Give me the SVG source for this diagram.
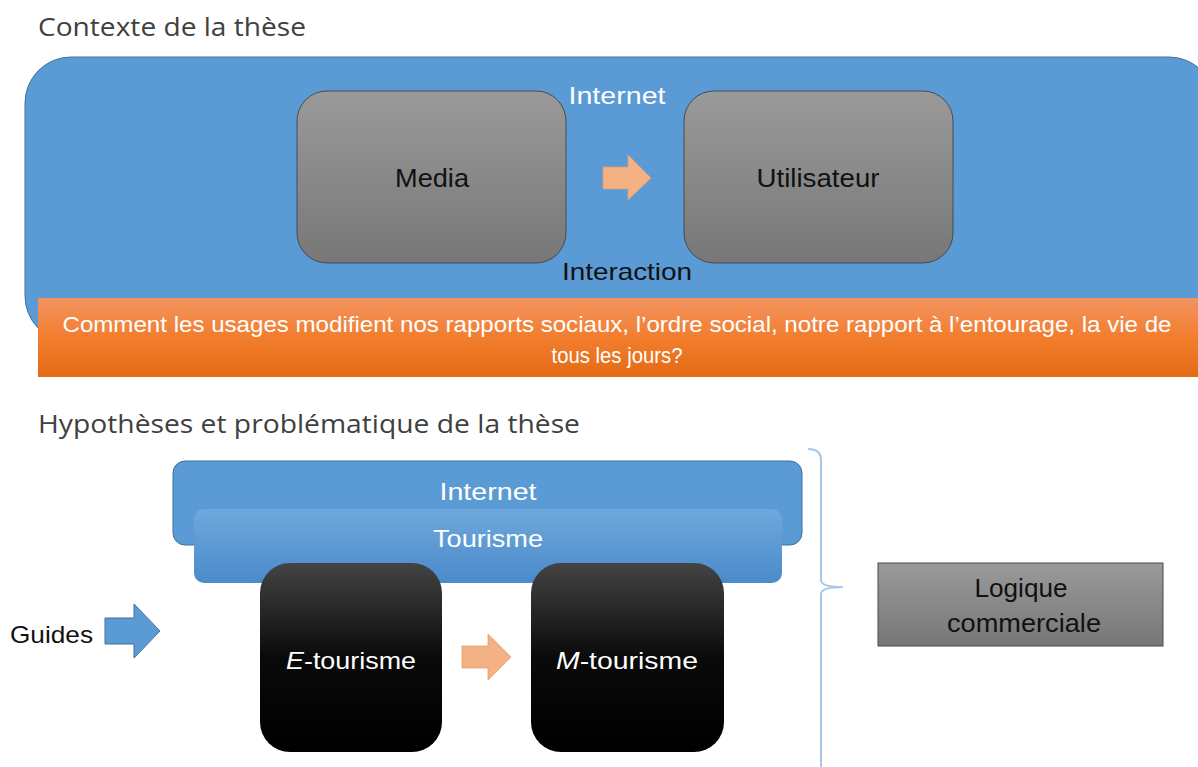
<svg xmlns="http://www.w3.org/2000/svg" width="1198" height="767" viewBox="0 0 1198 767">
<defs>
<linearGradient id="gGray" x1="0" y1="0" x2="0" y2="1"><stop offset="0" stop-color="#9a9a9a"/><stop offset="1" stop-color="#777777"/></linearGradient>
<linearGradient id="gBlack" x1="0" y1="0" x2="0" y2="1"><stop offset="0" stop-color="#444444"/><stop offset="0.5" stop-color="#0a0a0a"/><stop offset="1" stop-color="#000000"/></linearGradient>
<linearGradient id="gOrange" x1="0" y1="0" x2="0" y2="1"><stop offset="0" stop-color="#F29360"/><stop offset="0.5" stop-color="#F27E2E"/><stop offset="1" stop-color="#E46A14"/></linearGradient>
<linearGradient id="gTour" x1="0" y1="0" x2="0" y2="1"><stop offset="0" stop-color="#6FA8DC"/><stop offset="1" stop-color="#4A8BCB"/></linearGradient>
</defs>
<style>
.t{font-family:"Liberation Sans","Open Sans",sans-serif;}
.title{font-family:"Open Sans","Liberation Sans",sans-serif;font-size:26px;fill:#404040;}
.w{font-family:"Liberation Sans","Open Sans",sans-serif;fill:#ffffff;text-anchor:middle;}
.k{font-family:"Liberation Sans","Open Sans",sans-serif;fill:#111111;text-anchor:middle;}
.gray{fill:url(#gGray);stroke:#4a4a4a;stroke-width:1;}
.black{fill:url(#gBlack);}
</style>
<rect width="1198" height="767" fill="#ffffff"/>
<text class="title" x="38" y="36" textLength="268" lengthAdjust="spacingAndGlyphs">Contexte de la thèse</text>
<g id="internet-top">
<rect x="25" y="57" width="1190" height="285" rx="46" fill="#5B9BD5" stroke="#41719C" stroke-width="1"/>
<text class="w" x="617" y="104" font-size="24" textLength="97" lengthAdjust="spacingAndGlyphs">Internet</text>
<text class="k" x="627" y="280" font-size="24" textLength="130" lengthAdjust="spacingAndGlyphs">Interaction</text>
</g>
<g id="media"><rect class="gray" x="297" y="91" width="269" height="172" rx="30"/><text class="k" x="432" y="187" font-size="25" textLength="74" lengthAdjust="spacingAndGlyphs">Media</text></g>
<g id="utilisateur"><rect class="gray" x="684" y="91" width="269" height="172" rx="30"/><text class="k" x="818" y="187" font-size="25" textLength="123" lengthAdjust="spacingAndGlyphs">Utilisateur</text></g>
<g id="question">
<rect x="38" y="298" width="1165" height="79" fill="url(#gOrange)"/>
<text class="w" x="617" y="332" font-size="22" textLength="1109" lengthAdjust="spacingAndGlyphs">Comment les usages modifient nos rapports sociaux, l’ordre social, notre rapport à l’entourage, la vie de</text>
<text class="w" x="617" y="363" font-size="22" textLength="131" lengthAdjust="spacingAndGlyphs">tous les jours?</text>
</g>
<text class="title" x="38" y="433" textLength="542" lengthAdjust="spacingAndGlyphs">Hypothèses et problématique de la thèse</text>
<g id="internet-bottom"><rect x="173" y="461" width="629" height="84" rx="12" fill="#5B9BD5" stroke="#41719C" stroke-width="1"/><text class="w" x="488" y="500" font-size="24" textLength="97" lengthAdjust="spacingAndGlyphs">Internet</text></g>
<g id="tourisme"><rect x="194" y="509" width="588" height="74" rx="10" fill="url(#gTour)"/><text class="w" x="488" y="547" font-size="24" textLength="110" lengthAdjust="spacingAndGlyphs">Tourisme</text></g>
<g id="e-tourisme"><rect class="black" x="260" y="563" width="182" height="189" rx="30"/><text class="w" x="351" y="669" font-size="24" textLength="130" lengthAdjust="spacingAndGlyphs"><tspan font-style="italic">E</tspan>-tourisme</text></g>
<g id="m-tourisme"><rect class="black" x="531" y="563" width="193" height="189" rx="30"/><text class="w" x="627" y="669" font-size="24" textLength="142" lengthAdjust="spacingAndGlyphs"><tspan font-style="italic">M</tspan>-tourisme</text></g>
<g id="guides"><text x="10" y="643" font-size="24" class="t" fill="#111" textLength="83" lengthAdjust="spacingAndGlyphs">Guides</text></g>
<g id="logique"><rect class="gray" x="878" y="563" width="285" height="83" /><text class="k" x="1021" y="597" font-size="25" fill="#222" textLength="93" lengthAdjust="spacingAndGlyphs">Logique</text><text class="k" x="1024" y="632" font-size="25" fill="#222" textLength="154" lengthAdjust="spacingAndGlyphs">commerciale</text></g>
<g id="connectors">
<polygon points="603,167 628,167 628,155 651,178 628,200 628,189 603,189" fill="#F4B183" stroke="#E0A070" stroke-width="0.8"/>
<polygon points="462,646 488,646 488,634 511,657 488,680 488,668 462,668" fill="#F4B183" stroke="#E0A070" stroke-width="0.8"/>
<polygon points="105,618 134,618 134,604 160,631 134,658 134,644 105,644" fill="#5B9BD5" stroke="#41719C" stroke-width="1"/>
<path d="M808,449 Q821,449 821,460 L821,580 Q821,587 843,587 Q821,587 821,594 L821,767" fill="none" stroke="#A9C6E8" stroke-width="2"/>
</g>
</svg>
